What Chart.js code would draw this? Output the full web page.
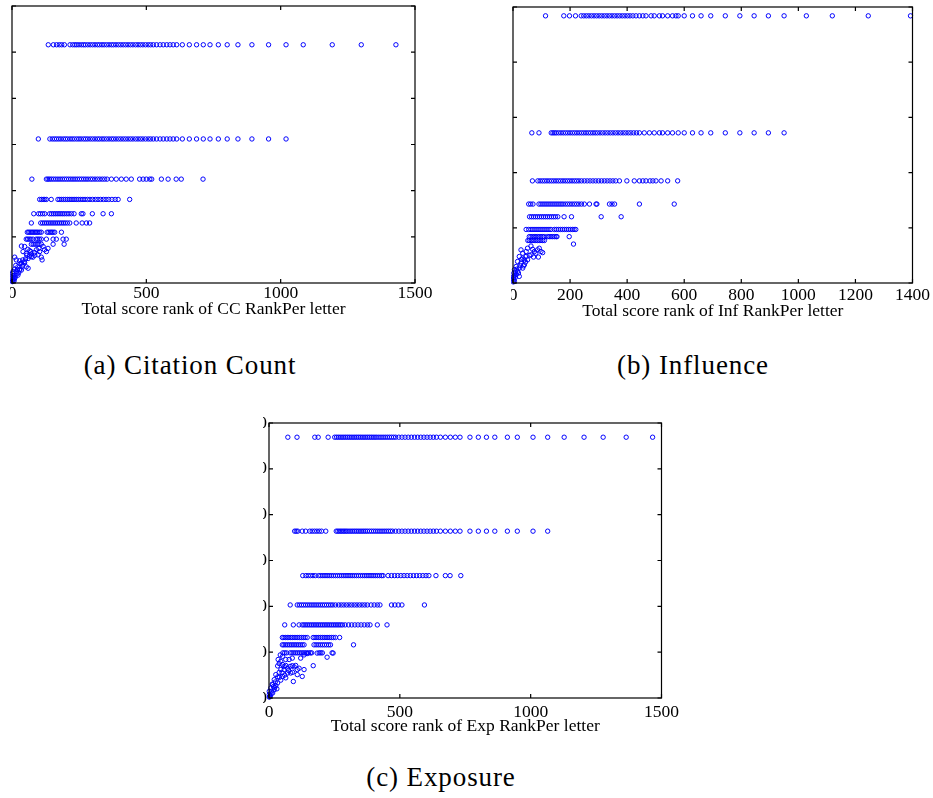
<!DOCTYPE html>
<html>
<head>
<meta charset="utf-8">
<script src="https://cdn.jsdelivr.net/npm/chart.js@4.4.1/dist/chart.umd.min.js"></script>
<style>
  html, body { margin: 0; padding: 0; background: #fff; }
  body { width: 933px; height: 798px; position: relative; overflow: hidden; }
  .clip { position: absolute; overflow: hidden; }
  .clip canvas { position: absolute; }
  .cap { position: absolute; font-family: 'Liberation Serif', 'Times New Roman', Times, serif; font-size: 27px; letter-spacing: 0.9px;
         line-height: 27px; white-space: nowrap; transform: translateX(-50%); color: #000; }
</style>
</head>
<body>
<div class="clip" style="left:10px;top:0;width:450px;height:335px">
  <canvas id="chartA" width="463" height="327" style="left:-38px;top:-9px"></canvas>
</div>
<div class="clip" style="left:511px;top:0;width:422px;height:335px">
  <canvas id="chartB" width="461" height="328" style="left:-38px;top:-8px"></canvas>
</div>
<div class="clip" style="left:263px;top:400px;width:440px;height:340px">
  <canvas id="chartC" width="456" height="327" style="left:-34px;top:8px"></canvas>
</div>
<div class="cap" style="left:190px;top:352px">(a) Citation Count</div>
<div class="cap" style="left:693px;top:352px">(b) Influence</div>
<div class="cap" style="left:441px;top:764px">(c) Exposure</div>

<script>
// ---- (a) Citation Count ----
const ccRowY = [51.6, 31.2, 22.5, 18.1, 15.0, 13.0, 11.0, 9.5, 8.4];
const ccRowX = [
  [135, 154, 166, 176, 185, 195, 216, 226, 234, 241, 249, 258, 266, 273, 282, 291, 300, 309, 318, 326, 335, 343, 352, 361, 370, 378, 387, 396, 405, 414, 423, 432, 441, 450, 460, 469, 478, 487, 497, 507, 516, 526, 538, 551, 563, 576, 588, 600, 613, 634, 660, 687, 712, 737, 768, 801, 841, 893, 955, 1020, 1084, 1192, 1300, 1429],
  [98, 141, 150, 158, 166, 174, 182, 191, 199, 207, 216, 224, 232, 241, 249, 257, 266, 274, 282, 291, 300, 309, 318, 326, 335, 343, 352, 361, 370, 378, 387, 396, 405, 414, 423, 432, 441, 450, 460, 469, 478, 487, 497, 507, 516, 526, 538, 551, 563, 576, 588, 600, 613, 634, 660, 687, 712, 737, 768, 801, 841, 893, 955, 1020],
  [74, 128, 134, 140, 147, 155, 163, 171, 179, 187, 195, 203, 211, 219, 227, 235, 243, 251, 259, 267, 275, 283, 292, 300, 309, 318, 327, 336, 345, 354, 370, 388, 407, 425, 444, 475, 488, 500, 513, 520, 556, 581, 611, 630, 711],
  [103, 110, 116, 122, 128, 146, 171, 178, 185, 192, 199, 206, 213, 220, 227, 234, 241, 248, 256, 264, 272, 281, 290, 300, 310, 320, 330, 340, 350, 360, 372, 384, 395, 438],
  [81, 99, 106, 114, 122, 140, 147, 154, 161, 168, 175, 182, 189, 196, 204, 212, 221, 231, 258, 264, 299, 339, 370],
  [72, 107, 114, 121, 128, 135, 142, 149, 156, 163, 170, 177, 184, 191, 198, 206, 215, 239, 261, 277, 289],
  [57, 62, 67, 72, 77, 82, 87, 92, 97, 103, 109, 131, 137, 143, 148, 153, 159, 184],
  [53, 58, 64, 70, 78, 90, 96, 102, 109, 128, 153, 165, 190, 202],
  [72, 79, 86, 93, 100, 109, 153, 194]
];
const ccLowX = [35, 47, 59, 66, 41, 53, 72, 84, 78, 109, 112, 10, 16, 28, 35, 41, 53, 60, 22, 10, 4, 16, 28, 2, 8, 22, 4, 10, 2, 4, 35, 47, 60, 72, 97, 91, 103, 121, 128, 134, 1, 6, 12, 18, 25, 30, 38, 45, 50, 65, 14, 30, 8, 3, 20, 40, 55, 70, 85, 100, 116];
const ccLowY = [8.0, 7.9, 7.3, 7.0, 6.8, 6.4, 6.3, 6.6, 5.6, 5.6, 5.0, 5.6, 5.0, 4.8, 4.3, 3.9, 3.5, 3.2, 3.5, 3.0, 2.5, 2.5, 2.8, 2.1, 1.7, 1.7, 1.2, 1.0, 0.7, 0.4, 2.8, 4.4, 5.3, 5.7, 6.1, 7.2, 6.8, 7.2, 6.8, 7.5, 0.3, 0.9, 1.3, 2.0, 2.2, 3.0, 3.6, 4.6, 5.2, 5.8, 3.8, 4.2, 0.5, 1.5, 2.9, 5.0, 6.0, 6.8, 6.0, 7.5, 7.9];

// ---- (b) Influence ----
const infRowY = [48.4, 27.2, 18.5, 14.3, 12.0, 9.7, 8.4, 7.7, 7.05];
const infRowX = [
  [114, 178, 198, 219, 239, 248, 257, 266, 275, 284, 293, 302, 311, 320, 329, 338, 347, 356, 365, 374, 383, 392, 401, 410, 420, 431, 443, 455, 466, 484, 495, 513, 524, 542, 559, 571, 579, 600, 629, 659, 693, 744, 795, 845, 895, 950, 1028, 1119, 1245, 1393],
  [66, 91, 134, 140, 146, 152, 160, 168, 176, 184, 192, 200, 208, 216, 224, 232, 240, 248, 256, 264, 272, 280, 288, 296, 305, 314, 323, 332, 341, 350, 359, 368, 377, 386, 395, 404, 413, 423, 433, 443, 460, 478, 495, 513, 524, 542, 559, 579, 600, 629, 659, 693, 744, 795, 845, 895, 950],
  [68, 87, 95, 103, 111, 119, 127, 135, 143, 151, 159, 167, 175, 183, 191, 199, 207, 215, 223, 231, 240, 250, 260, 270, 280, 290, 300, 310, 320, 330, 340, 350, 360, 373, 399, 425, 443, 455, 466, 480, 490, 501, 519, 542, 577],
  [55, 62, 70, 91, 98, 105, 112, 119, 126, 133, 140, 147, 154, 161, 168, 175, 183, 191, 199, 207, 215, 223, 231, 240, 250, 268, 291, 294, 338, 347, 356, 443, 565],
  [58, 65, 72, 79, 86, 93, 100, 107, 114, 121, 128, 135, 142, 149, 157, 179, 205, 309, 379],
  [46, 55, 63, 70, 77, 84, 91, 98, 105, 112, 119, 126, 133, 145, 152, 159, 166, 173, 180, 187, 194, 201, 208, 214, 220],
  [57, 63, 69, 75, 80, 86, 92, 98, 104, 110, 121, 127, 133, 139, 145, 151, 154, 197],
  [52, 57, 63, 68, 74, 80, 86, 92, 98, 104, 110],
  [212]
];
const infLowX = [28, 34, 46, 51, 63, 69, 75, 86, 92, 98, 72, 89, 22, 34, 40, 46, 16, 28, 40, 11, 22, 34, 5, 16, 3, 11, 2, 2, 3, 5, 22, 37, 51, 63, 80, 104, 8, 13, 25, 19, 57, 44, 30, 6, 1, 9];
const infLowY = [6.0, 5.4, 5.7, 6.3, 6.7, 6.1, 5.7, 6.0, 6.3, 5.7, 4.7, 4.7, 4.8, 4.5, 4.2, 4.8, 3.9, 3.6, 3.3, 3.0, 2.7, 2.7, 2.4, 2.1, 1.8, 1.5, 1.2, 0.9, 0.6, 0.3, 1.2, 3.1, 4.2, 5.1, 5.4, 5.5, 1.0, 2.5, 3.2, 1.8, 5.0, 3.8, 4.3, 1.4, 0.2, 2.0];

// ---- (c) Exposure ----
const expRowY = [56.9, 36.4, 26.7, 20.3, 15.95, 13.2, 11.6, 9.85];
const expRowX = [
  [72, 107, 175, 188, 226, 251, 258, 265, 272, 279, 286, 293, 300, 307, 314, 321, 328, 335, 342, 349, 356, 363, 370, 377, 384, 391, 398, 405, 412, 420, 428, 436, 444, 452, 460, 468, 476, 484, 496, 508, 520, 532, 544, 556, 568, 580, 592, 604, 616, 628, 640, 655, 674, 693, 712, 730, 768, 800, 831, 863, 911, 949, 1009, 1065, 1128, 1204, 1277, 1365, 1466],
  [98, 104, 110, 127, 140, 156, 165, 174, 183, 192, 201, 217, 257, 263, 269, 275, 281, 287, 293, 299, 306, 313, 320, 327, 334, 341, 348, 355, 362, 369, 376, 384, 392, 400, 408, 416, 424, 432, 440, 448, 456, 464, 472, 484, 496, 508, 520, 532, 544, 556, 568, 580, 592, 604, 616, 628, 640, 655, 674, 693, 712, 730, 768, 800, 831, 863, 911, 949, 1009, 1065],
  [129, 141, 150, 159, 168, 177, 190, 198, 206, 214, 222, 230, 238, 246, 254, 262, 270, 278, 286, 294, 302, 310, 318, 326, 334, 342, 350, 358, 366, 374, 382, 390, 398, 406, 414, 422, 430, 436, 455, 468, 480, 492, 504, 516, 528, 540, 552, 564, 576, 588, 600, 611, 638, 674, 692, 733],
  [81, 108, 116, 124, 132, 140, 148, 156, 164, 172, 180, 188, 196, 204, 212, 220, 228, 236, 244, 254, 266, 276, 286, 296, 306, 316, 326, 336, 346, 356, 366, 376, 390, 402, 414, 424, 468, 481, 494, 508, 594],
  [60, 93, 115, 127, 134, 141, 148, 155, 162, 169, 176, 183, 190, 197, 204, 211, 218, 225, 232, 239, 246, 253, 260, 267, 274, 281, 291, 304, 316, 328, 340, 352, 364, 376, 386, 414, 451],
  [51, 57, 63, 70, 76, 83, 89, 96, 103, 110, 117, 124, 131, 138, 146, 169, 176, 183, 190, 197, 204, 211, 218, 225, 232, 239, 246, 254, 270],
  [51, 57, 64, 71, 78, 85, 92, 99, 106, 113, 120, 127, 134, 172, 180, 188, 196, 204, 212, 220, 228, 235, 323],
  [53, 60, 67, 81, 88, 95, 102, 109, 116, 123, 130, 137, 144, 151, 158, 163, 192, 198, 204, 241]
];
const expLowX = [33, 39, 52, 58, 64, 71, 81, 89, 96, 102, 108, 115, 134, 169, 93, 127, 108, 83, 71, 58, 45, 39, 26, 33, 52, 64, 20, 33, 14, 26, 7, 20, 1, 14, 1, 5, 1, 45, 35, 52, 43, 64, 77, 89, 121, 134, 222, 245, 146, 184, 10, 17, 24, 40, 50, 60, 30, 8, 12, 45, 75, 90, 3, 22];
const expLowY = [7.0, 7.5, 7.3, 6.9, 7.1, 6.5, 6.9, 7.05, 6.8, 7.1, 6.2, 6.5, 6.2, 7.05, 3.6, 4.7, 5.1, 5.45, 5.45, 6.2, 6.2, 5.6, 5.1, 4.6, 4.7, 4.4, 4.0, 3.3, 2.9, 2.7, 2.2, 1.8, 1.45, 1.1, 0.73, 0.5, 0.2, 8.0, 8.4, 9.1, 9.4, 8.4, 8.4, 8.7, 8.7, 9.4, 8.9, 9.8, 9.7, 9.8, 1.5, 2.5, 3.5, 4.5, 5.5, 5.0, 2.0, 0.9, 3.0, 3.9, 6.0, 5.6, 0.3, 2.3];

const BLUE = 'rgb(0,0,255)';
const SERIF = "'Liberation Serif', 'Times New Roman', serif";

function points(rowsX, rowsY, lowX, lowY) {
  const pts = [];
  rowsX.forEach((xs, i) => xs.forEach(x => pts.push({ x, y: rowsY[i] })));
  lowX.forEach((x, i) => pts.push({ x, y: lowY[i] }));
  return pts;
}

// MATLAB style box with inward ticks on all four sides
const boxTicks = {
  id: 'boxTicks',
  afterDatasetsDraw(chart) {
    const { ctx, chartArea: a, scales: { x, y } } = chart;
    const len = 4;
    ctx.save();
    ctx.strokeStyle = '#000';
    ctx.lineWidth = 1.2;
    ctx.strokeRect(a.left, a.top, a.right - a.left, a.bottom - a.top);
    ctx.beginPath();
    x.ticks.forEach(t => {
      const px = x.getPixelForValue(t.value);
      ctx.moveTo(px, a.bottom); ctx.lineTo(px, a.bottom - len);
      ctx.moveTo(px, a.top); ctx.lineTo(px, a.top + len);
    });
    y.ticks.forEach(t => {
      const py = y.getPixelForValue(t.value);
      ctx.moveTo(a.left, py); ctx.lineTo(a.left + len, py);
      ctx.moveTo(a.right, py); ctx.lineTo(a.right - len, py);
    });
    ctx.stroke();
    ctx.restore();
  }
};

function scatter(id, data, o) {
  const font = { family: SERIF, size: 17.5, lineHeight: 1 };
  const plain = v => String(v);
  return new Chart(document.getElementById(id), {
    type: 'scatter',
    data: {
      datasets: [{
        data,
        borderColor: BLUE,
        backgroundColor: 'rgba(0,0,0,0)',
        pointStyle: 'circle',
        pointRadius: 2.2,
        borderWidth: 1,
        clip: false
      }]
    },
    options: {
      responsive: false,
      animation: false,
      events: [],
      layout: { padding: { top: 15, right: 20, bottom: 0, left: 0 } },
      plugins: { legend: { display: false }, tooltip: { enabled: false } },
      scales: {
        x: {
          type: 'linear', min: 0, max: o.xMax,
          afterFit: s => { s.height = o.xH; },
          grid: { display: false, drawTicks: false },
          border: { display: false },
          ticks: { stepSize: o.xStep, padding: o.xPad, color: '#000', font, maxRotation: 0, autoSkip: false, callback: plain },
          title: { display: true, text: o.title, color: '#000', font, padding: 0 }
        },
        y: {
          type: 'linear', min: 0, max: o.yMax,
          afterFit: s => { s.width = 40; },
          grid: { display: false, drawTicks: false },
          border: { display: false },
          ticks: { stepSize: 10, padding: 2, color: '#000', font, callback: plain }
        }
      }
    },
    plugins: [boxTicks]
  });
}

scatter('chartA', points(ccRowX, ccRowY, ccLowX, ccLowY),
  { xMax: 1500, xStep: 500, yMax: 60, xPad: 2, xH: 35, title: 'Total score rank of CC RankPer letter' });
scatter('chartB', points(infRowX, infRowY, infLowX, infLowY),
  { xMax: 1400, xStep: 200, yMax: 50, xPad: 4, xH: 37, title: 'Total score rank of Inf RankPer letter' });
scatter('chartC', points(expRowX, expRowY, expLowX, expLowY),
  { xMax: 1500, xStep: 500, yMax: 60, xPad: 6, xH: 37, title: 'Total score rank of Exp RankPer letter' });
</script>
</body>
</html>
